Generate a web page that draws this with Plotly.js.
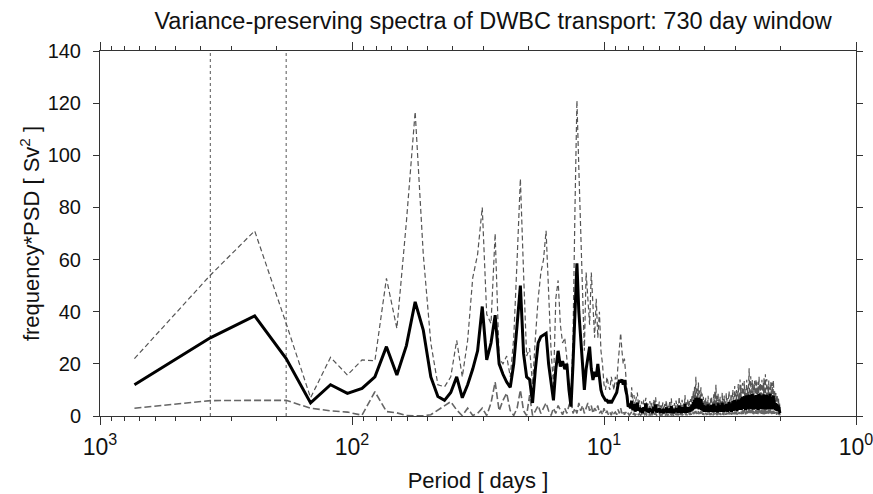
<!DOCTYPE html>
<html>
<head>
<meta charset="utf-8">
<script src="https://cdn.plot.ly/plotly-3.0.1.min.js"></script>
<style>html,body{margin:0;padding:0;background:#fff}#chart{width:873px;height:494px}</style>
</head>
<body>
<div id="chart"></div>
<script>
// Spectral estimates at harmonics k = 1..365 of a 730-day window (period = 730/k days)
const windowDays = 730;

// thick solid: mean variance-preserving spectrum
const spectrum = [
  12, 30, 38.4, 22, 5, 12, 8.7, 10.6, 15, 26.6,
  15.7, 27, 43.8, 33, 15, 7.5, 6, 9, 15, 7,
  12, 18, 25, 42, 21.5, 28, 38.7, 20, 16, 13,
  11, 20, 35, 50, 24, 15, 14, 5, 18, 28,
  30.4, 31, 31.7, 20, 12, 6, 18, 25, 19, 21,
  18, 20, 10, 3.6, 20, 38, 58.6, 40, 29, 20,
  10, 18, 22, 26.6, 18, 13.8, 17, 15, 20, 15,
  10, 8, 7, 6, 6, 5, 6, 5, 6, 7,
  8, 9, 12, 13.8, 13, 14, 12, 13.8, 10, 8,
  3.6, 4, 3, 5.8, 2.2, 4.6, 1.7, 3.9, 5.1, 2.0,
  3.2, 1.4, 2.9, 1.1, 3.4, 2.0, 4.8, 1.5, 2.6, 1.2,
  3.1, 1.8, 2.7, 1.0, 3.6, 1.9, 4.4, 1.3, 2.5, 1.6,
  3.0, 1.1, 2.2, 1.4, 2.8, 1.0, 2.4, 1.7, 3.3, 1.2,
  2.1, 1.5, 2.9, 1.1, 3.8, 1.6, 2.3, 1.0, 2.7, 1.4,
  3.2, 1.8, 2.5, 1.2, 4.1, 1.5, 2.8, 1.1, 3.4, 1.9,
  2.6, 1.3, 4.6, 1.7, 2.9, 1.2, 3.5, 2.0, 3.1, 1.4,
  3.6, 1.8, 4.4, 2.2, 5.3, 2.6, 6.2, 3.0, 7.1, 2.8,
  6.5, 3.4, 7.0, 2.5, 5.8, 3.1, 6.6, 2.2, 5.0, 1.9,
  4.2, 1.6, 3.5, 2.0, 4.0, 1.5, 3.2, 1.8, 4.5, 1.4,
  3.0, 2.1, 3.8, 1.6, 4.3, 2.0, 3.1, 1.4, 4.7, 2.2,
  3.5, 1.5, 4.0, 2.4, 3.3, 1.3, 4.9, 1.9, 3.6, 2.1,
  4.2, 1.6, 3.0, 2.3, 5.1, 1.8, 3.7, 1.4, 4.4, 2.5,
  3.2, 1.7, 4.6, 2.0, 3.9, 1.5, 4.1, 2.6, 5.4, 1.9,
  3.4, 2.2, 4.8, 1.6, 3.6, 2.4, 5.7, 2.0, 4.3, 2.7,
  6.1, 2.1, 4.9, 2.5, 5.6, 1.8, 4.4, 3.0, 6.3, 2.3,
  5.2, 2.6, 4.7, 3.1, 6.8, 2.4, 5.5, 3.3, 7.2, 2.7,
  6.0, 3.5, 7.6, 2.9, 5.9, 2.2, 6.7, 3.8, 7.9, 3.0,
  6.3, 2.5, 7.4, 3.6, 8.2, 2.8, 6.9, 3.4, 7.7, 2.6,
  6.4, 3.9, 8.4, 3.1, 7.0, 2.4, 6.1, 3.7, 7.8, 2.9,
  6.6, 3.3, 8.0, 2.7, 7.3, 3.5, 6.2, 2.3, 7.5, 3.8,
  8.6, 3.0, 6.8, 2.6, 7.1, 3.4, 6.0, 2.8, 7.9, 3.2,
  6.5, 2.5, 7.2, 3.6, 8.3, 2.9, 6.7, 3.3, 7.6, 2.4,
  6.3, 3.7, 8.1, 3.0, 7.0, 2.6, 6.4, 3.5, 7.7, 2.8,
  6.9, 3.2, 8.5, 2.7, 7.4, 3.4, 6.1, 2.5, 7.3, 3.1,
  6.6, 2.9, 7.8, 3.6, 6.2, 2.6, 5.4, 3.1, 4.8, 2.2,
  5.0, 2.7, 4.3, 1.9, 4.6, 2.4, 3.9, 1.8, 4.1, 2.0,
  3.4, 1.5, 2.8, 1.2, 1.0
];

// upper dashed
const upperBound = [
  22, 54, 71, 35.5, 7, 22.5, 15.7, 21.5, 21.2, 52.8,
  33.6, 74.5, 116.7, 62, 28, 12, 11.2, 15, 29, 15,
  29, 53, 62, 80, 39, 35.5, 70, 22, 20, 23,
  15, 30, 60, 91, 55, 23, 26, 12, 30, 45,
  55, 60, 71, 45, 25, 12, 45, 52, 35, 28,
  30, 22, 12, 8, 30, 80, 121, 95, 70, 50,
  25, 55, 45, 35, 55, 40, 30, 45, 30, 40,
  25, 20, 12, 10, 15, 12, 10, 15, 12, 10,
  15, 12, 20, 28, 31.8, 25, 20, 22, 15, 8,
  5, 4, 3, 11, 5, 8, 4, 7, 9, 4,
  6, 3.0, 5.6, 2.4, 6.2, 3.8, 7.0, 2.9, 4.8, 2.5,
  5.7, 3.3, 5.0, 2.1, 6.4, 3.6, 7.2, 2.6, 4.6, 3.0,
  5.5, 2.2, 4.1, 2.8, 5.2, 2.0, 4.5, 3.2, 6.0, 2.4,
  3.9, 2.9, 5.3, 2.2, 6.8, 3.1, 4.3, 2.0, 5.0, 2.7,
  5.9, 3.4, 4.6, 2.3, 7.4, 2.9, 5.1, 2.2, 6.2, 3.6,
  4.8, 2.5, 8.0, 3.2, 5.3, 2.3, 6.4, 3.8, 5.7, 2.7,
  6.5, 3.4, 8.0, 4.1, 9.6, 4.8, 11.2, 5.5, 15.0, 5.2,
  10.5, 6.2, 12.8, 4.6, 9.8, 5.7, 11.0, 4.0, 8.6, 3.5,
  7.4, 3.0, 6.2, 3.7, 7.0, 2.8, 5.7, 3.3, 7.8, 2.6,
  5.3, 3.9, 6.7, 3.0, 7.6, 3.7, 5.5, 2.6, 8.3, 4.0,
  9.5, 3.2, 12.0, 4.4, 7.8, 2.5, 8.7, 3.5, 6.4, 3.9,
  7.4, 3.0, 5.3, 4.2, 9.0, 3.3, 6.5, 2.6, 7.8, 4.6,
  5.7, 3.1, 8.9, 3.7, 6.9, 2.8, 7.3, 4.8, 9.5, 3.5,
  6.0, 4.0, 8.5, 3.0, 6.4, 4.4, 10.1, 3.7, 7.6, 4.9,
  11.5, 3.9, 8.6, 4.6, 10.0, 3.3, 7.8, 5.5, 12.3, 4.2,
  9.2, 4.8, 14.0, 5.6, 12.0, 4.4, 9.7, 6.0, 12.7, 4.9,
  10.6, 6.3, 13.4, 5.2, 10.4, 4.0, 11.8, 6.8, 13.9, 5.4,
  11.1, 4.5, 15.0, 6.5, 18.3, 5.0, 12.2, 6.1, 15.2, 4.7,
  11.3, 7.0, 13.8, 5.6, 12.4, 4.3, 10.8, 6.6, 13.5, 5.2,
  11.6, 5.9, 14.1, 4.9, 12.9, 6.3, 10.9, 4.1, 13.2, 6.8,
  15.1, 5.4, 12.0, 4.7, 12.5, 6.1, 10.6, 5.0, 13.9, 5.8,
  11.4, 4.5, 12.7, 6.5, 14.6, 5.2, 11.8, 5.9, 16.0, 4.3,
  11.1, 6.7, 14.2, 5.4, 12.3, 4.7, 11.3, 6.3, 13.6, 5.0,
  12.1, 5.8, 11.0, 4.9, 13.0, 6.1, 10.7, 4.5, 12.8, 5.6,
  11.6, 5.2, 13.7, 6.5, 10.9, 4.7, 9.5, 5.6, 8.5, 4.0,
  8.8, 4.9, 7.6, 3.4, 8.1, 4.3, 6.9, 3.2, 7.2, 3.6,
  6.0, 2.7, 4.9, 2.1, 1.8
];

// lower dashed
const lowerBound = [
  3, 5.9, 6, 6, 3, 2, 1.5, 0.3, 9.3, 1.7,
  1.2, 0.2, 0.1, 0.1, 0.5, 2.3, 4, 5.5, 2.3, 0.1,
  3, 0.2, 1, 3, 0.2, 5, 13, 2, 6, 8.8,
  2, 0.2, 3, 10, 2, 0.2, 8, 0.2, 2, 4,
  1, 3, 5, 2, 0.2, 3, 1, 4, 2, 0.5,
  3, 1, 4, 6, 1, 3, 1, 5, 2, 4,
  1, 3, 5, 2, 4, 1, 3, 2, 4, 1,
  2, 0.5, 3, 1, 2, 0.5, 1.5, 0.3, 2, 1,
  1.5, 0.5, 2.5, 1, 3, 1, 2, 0.5, 1.5, 0.4,
  1, 0.3, 0.8, 1.5, 0.4, 1.2, 0.3, 0.9, 1.4, 0.5,
  0.8, 0.3, 0.8, 0.2, 1.0, 0.5, 1.3, 0.3, 0.7, 0.2,
  0.9, 0.4, 0.8, 0.2, 1.1, 0.5, 1.2, 0.3, 0.7, 0.4,
  0.9, 0.2, 0.6, 0.3, 0.8, 0.2, 0.7, 0.4, 1.0, 0.3,
  0.6, 0.4, 0.8, 0.2, 1.1, 0.4, 0.6, 0.2, 0.8, 0.3,
  0.9, 0.5, 0.7, 0.3, 1.2, 0.4, 0.8, 0.3, 1.0, 0.5,
  0.7, 0.3, 1.3, 0.4, 0.8, 0.3, 1.0, 0.5, 0.9, 0.4,
  1.0, 0.5, 1.2, 0.6, 1.5, 0.7, 1.8, 0.8, 2.0, 0.7,
  1.7, 0.9, 1.9, 0.6, 1.6, 0.8, 1.8, 0.6, 1.4, 0.5,
  1.2, 0.4, 1.0, 0.6, 1.1, 0.4, 0.9, 0.5, 1.2, 0.4,
  0.8, 0.6, 1.0, 0.4, 1.2, 0.5, 0.9, 0.3, 1.3, 0.6,
  1.0, 0.4, 1.1, 0.7, 0.9, 0.3, 1.4, 0.5, 1.0, 0.6,
  1.2, 0.4, 0.8, 0.6, 1.5, 0.5, 1.0, 0.4, 1.3, 0.7,
  0.9, 0.5, 1.3, 0.6, 1.1, 0.4, 1.2, 0.7, 1.6, 0.5,
  1.0, 0.6, 1.4, 0.5, 1.0, 0.7, 1.6, 0.6, 1.2, 0.8,
  1.7, 0.6, 1.4, 0.7, 1.6, 0.5, 1.3, 0.9, 1.8, 0.7,
  1.5, 0.8, 1.3, 0.9, 2.0, 0.7, 1.6, 1.0, 2.2, 0.8,
  1.8, 1.1, 2.4, 0.9, 1.7, 0.6, 2.0, 1.2, 2.5, 0.9,
  1.9, 0.7, 2.3, 1.1, 2.7, 0.8, 2.0, 1.0, 2.4, 0.8,
  1.9, 1.2, 2.6, 0.9, 2.1, 0.7, 1.8, 1.1, 2.4, 0.9,
  2.0, 1.0, 2.5, 0.8, 2.2, 1.1, 1.9, 0.7, 2.3, 1.2,
  2.8, 0.9, 2.1, 0.8, 2.2, 1.0, 1.8, 0.8, 2.4, 1.0,
  2.0, 0.7, 2.2, 1.1, 2.6, 0.9, 2.0, 1.0, 2.4, 0.7,
  1.9, 1.1, 2.5, 0.9, 2.1, 0.8, 1.9, 1.0, 2.3, 0.8,
  2.1, 1.0, 2.6, 0.8, 2.2, 1.0, 1.8, 0.7, 2.1, 0.9,
  1.9, 0.8, 2.3, 1.1, 1.8, 0.8, 1.6, 0.9, 1.4, 0.6,
  1.5, 0.8, 1.3, 0.5, 1.4, 0.7, 1.1, 0.5, 1.2, 0.6,
  1.0, 0.4, 0.8, 0.3, 0.3
];

// annual and semi-annual reference periods (dotted verticals)
const markerPeriods = [365, 182.5];
const markerSpan = [0, 140];

const xTickVals = [1000, 100, 10, 1];
const xTickText = ['10<sup>3</sup>', '10<sup>2</sup>', '10<sup>1</sup>', '10<sup>0</sup>'];
const xMinorVals = [900, 800, 700, 600, 500, 400, 300, 200,
                    90, 80, 70, 60, 50, 40, 30, 20,
                    9, 8, 7, 6, 5, 4, 3, 2];

const period = spectrum.map((_, i) => windowDays / (i + 1));

const traces = [];
markerPeriods.forEach(p => traces.push({
  x: [p, p], y: markerSpan, mode: 'lines', hoverinfo: 'skip',
  line: {color: '#555', width: 1, dash: 'dot'}
}));
traces.push({
  x: period, y: lowerBound, mode: 'lines',
  line: {color: '#666', width: 1.6, dash: '7px,3px'}
});
traces.push({
  x: period, y: upperBound, mode: 'lines',
  line: {color: '#555', width: 1.2, dash: '5px,3px'}
});
traces.push({
  x: period, y: spectrum, mode: 'lines',
  line: {color: '#000', width: 3}
});

const font = 'Liberation Sans, Arial, Helvetica, sans-serif';
const layout = {
  width: 873, height: 494,
  margin: {l: 100, r: 17, t: 51, b: 78},
  paper_bgcolor: '#fff', plot_bgcolor: '#fff',
  showlegend: false,
  font: {family: font, color: '#111', size: 20},
  title: {
    text: 'Variance-preserving spectra of DWBC transport: 730 day window',
    font: {family: font, size: 23.5, color: '#111'},
    xref: 'paper', x: 0.52, xanchor: 'center',
    yref: 'container', y: 0.958, yanchor: 'middle'
  },
  xaxis: {
    type: 'log', range: [3, 0],
    tickvals: xTickVals, ticktext: xTickText,
    ticks: 'outside', ticklen: 8, tickwidth: 1, tickcolor: '#333',
    showline: true, linecolor: '#333', linewidth: 1, mirror: 'ticks',
    showgrid: false, zeroline: false,
    tickfont: {size: 23}, ticklabelstandoff: 2, ticklabeloverflow: 'allow',
    minor: {tickvals: xMinorVals, ticks: 'outside', ticklen: 4, tickcolor: '#333', showgrid: false},
    title: {text: 'Period [ days ]', font: {size: 22}, standoff: 14}
  },
  yaxis: {
    range: [0, 140], dtick: 20, tick0: 0,
    ticks: 'outside', ticklen: 6, tickwidth: 1, tickcolor: '#333',
    showline: true, linecolor: '#333', linewidth: 1, mirror: 'ticks',
    showgrid: false, zeroline: false,
    tickfont: {size: 20}, ticklabelstandoff: 8,
    title: {text: 'frequency*PSD [ Sv<sup>2</sup> ]', font: {size: 22}, standoff: 1}
  }
};

Plotly.newPlot('chart', traces, layout, {staticPlot: true, displayModeBar: false});
</script>
</body>
</html>
